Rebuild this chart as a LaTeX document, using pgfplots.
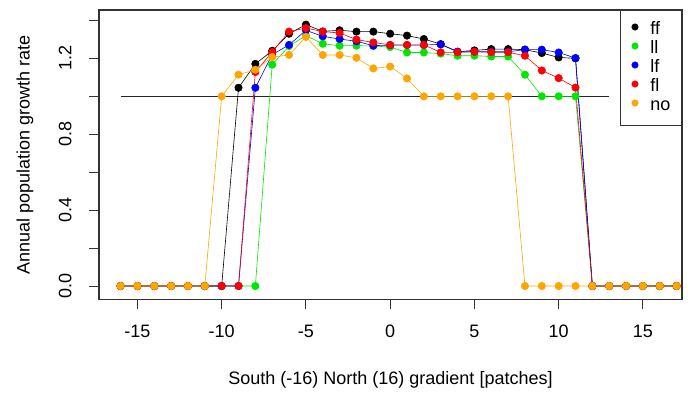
\documentclass[border=0pt]{standalone}
\usepackage{fontspec}
\setmainfont{Liberation Sans}[Ligatures=CommonOff]
\usepackage{pgfplots}
\usepackage{pgfplotstable}
\pgfplotsset{compat=1.18}
\definecolor{cff}{RGB}{0,0,0}
\definecolor{cll}{RGB}{0,230,0}
\definecolor{clf}{RGB}{0,0,255}
\definecolor{cfl}{RGB}{255,0,0}
\definecolor{cno}{RGB}{255,165,0}
\pgfplotstableread{
x ff ll lf fl no
-16 0 0 0 0 0
-15 0 0 0 0 0
-14 0 0 0 0 0
-13 0 0 0 0 0
-12 0 0 0 0 0
-11 0 0 0 0 0
-10 0 0 0 0 1.0
-9 1.045 0 0 0 1.114
-8 1.171 0 1.045 1.128 1.140
-7 1.24 1.167 1.22 1.234 1.207
-6 1.33 1.265 1.271 1.341 1.218
-5 1.378 1.32 1.348 1.360 1.313
-4 1.342 1.277 1.316 1.341 1.218
-3 1.348 1.267 1.302 1.334 1.218
-2 1.341 1.267 1.29 1.299 1.203
-1 1.341 1.265 1.267 1.284 1.147
0 1.330 1.26 1.27 1.271 1.157
1 1.320 1.231 1.27 1.271 1.094
2 1.302 1.231 1.27 1.271 1.0
3 1.275 1.225 1.274 1.232 1.0
4 1.235 1.214 1.235 1.232 1.0
5 1.242 1.214 1.235 1.235 1.0
6 1.249 1.210 1.235 1.232 1.0
7 1.249 1.210 1.235 1.232 1.0
8 1.246 1.114 1.246 1.214 0
9 1.228 1.0 1.246 1.136 0
10 1.205 1.0 1.231 1.096 0
11 1.20 1.0 1.202 1.046 0
12 0 0 0 0 0
13 0 0 0 0 0
14 0 0 0 0 0
15 0 0 0 0 0
16 0 0 0 0 0
17 0 0 0 0 0
}\data
\begin{document}
\begin{tikzpicture}
\begin{axis}[
  name=ax, scale only axis, width=583bp, height=289.3bp,
  xmin=-17.28, xmax=17.32, ymin=-0.07, ymax=1.455,
  xtick={-15,-10,-5,0,5,10,15},
  xticklabels={-15,-10,-5,0,5,10,15},
  ytick={0,0.2,0.4,0.6,0.8,1.0,1.2,1.4},
  yticklabels={0.0,{},0.4,{},0.8,{},1.2,{}},
  xtick pos=left, ytick pos=left,
  tick align=outside, major tick length=10bp,
  tick style={line width=1bp, color=black!80},
  axis line style={line width=1.2bp, color=black!80},
  every tick label/.append style={font=\fontsize{18bp}{21bp}\selectfont},
  xticklabel style={anchor=north, yshift=-12bp},
  yticklabel style={rotate=90, anchor=south, yshift=14bp},
  xlabel={South (-16) North (16) gradient [patches]},
  ylabel={Annual population growth rate},
  every axis x label/.style={at={(axis description cs:0.5,0)}, anchor=center, yshift=-81bp, font=\fontsize{18bp}{21bp}\selectfont},
  every axis y label/.style={at={(axis description cs:0,0.5)}, anchor=center, rotate=90, yshift=74bp, font=\fontsize{18bp}{21bp}\selectfont},
  legend style={at={(1,1)}, anchor=north east, draw=black!80, line width=1bp, fill=white,
    font=\fontsize{18bp}{19bp}\selectfont, inner xsep=11bp, inner ysep=11.5bp, row sep=3bp,
    nodes={inner xsep=0bp, inner ysep=0bp, text height=13bp, text depth=3bp},
    /tikz/every odd column/.append style={column sep=12bp}},
  legend cell align=left,
  legend image code/.code={\fill[#1] (0bp,3bp) circle (3.2bp);},
  every axis plot/.append style={line width=0.6bp, mark=*, mark size=3.7bp, mark options={line width=0.1bp}},
]
\addplot[forget plot, black!85, line width=1.3bp, mark=none] coordinates {(-16,1) (13,1)};
\addplot[color=cff, mark options={fill=cff}] table[x=x,y=ff]{\data};
\addlegendentry{ff}
\addplot[color=cll, mark options={fill=cll}] table[x=x,y=ll]{\data};
\addlegendentry{ll}
\addplot[color=clf, mark options={fill=clf}] table[x=x,y=lf]{\data};
\addlegendentry{lf}
\addplot[color=cfl, mark options={fill=cfl}] table[x=x,y=fl]{\data};
\addlegendentry{fl}
\addplot[color=cno, mark options={fill=cno}] table[x=x,y=no]{\data};
\addlegendentry{no}
\end{axis}
\pgfresetboundingbox
\path (ax.south west) ++(-99bp,-93.7bp) coordinate (bl);
\useasboundingbox (bl) rectangle ++(692bp,393bp);
\end{tikzpicture}
\end{document}
